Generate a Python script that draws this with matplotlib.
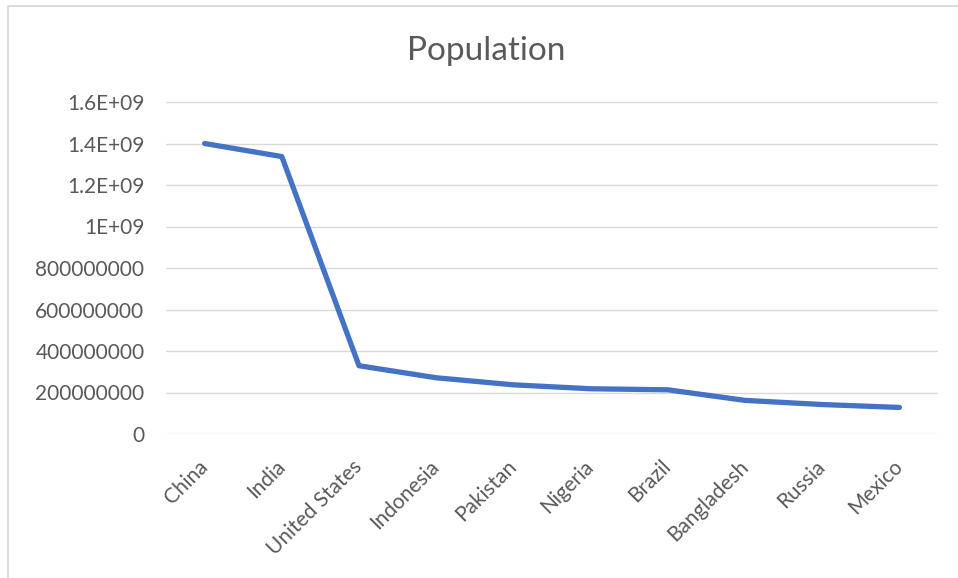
import matplotlib
matplotlib.use("Agg")
import matplotlib.pyplot as plt
from matplotlib.ticker import FixedLocator, FixedFormatter
from matplotlib.lines import Line2D

countries = ["China", "India", "United States", "Indonesia", "Pakistan",
             "Nigeria", "Brazil", "Bangladesh", "Russia", "Mexico"]
population = [1.400e9, 1.337e9, 3.29e8, 2.71e8, 2.37e8,
              2.18e8, 2.13e8, 1.62e8, 1.42e8, 1.28e8]
ytick_values = [0, 2e8, 4e8, 6e8, 8e8, 1e9, 1.2e9, 1.4e9, 1.6e9]
ytick_labels = ["0", "200000000", "400000000", "600000000", "800000000",
                "1E+09", "1.2E+09", "1.4E+09", "1.6E+09"]

plt.rcParams['font.family'] = ['Lato', 'DejaVu Sans']
W, H = 958, 578
fig = plt.figure(figsize=(W/100, H/100), dpi=100)
fig.patch.set_facecolor("white")
# chart-area border (only top and left edges are visible in the crop)
fig.lines.append(Line2D([7.5/W, 7.5/W, 1.0], [0.0, 1-5.5/H, 1-5.5/H],
                        transform=fig.transFigure, color="#d9d9d9", linewidth=1.3))

ax = fig.add_axes([166/W, (H-434)/H, 772/W, 332/H])
x = list(range(len(countries)))
ax.plot(x, population, color="#4472C4", linewidth=3.8,
        solid_joinstyle="round", solid_capstyle="round", zorder=3)
ax.set_xlim(-0.5, len(countries)-0.5)
ax.set_ylim(0, 1.6e9)
ax.yaxis.set_major_locator(FixedLocator(ytick_values))
ax.yaxis.set_major_formatter(FixedFormatter(ytick_labels))
ax.set_xticks(x)
ax.set_xticklabels(countries, rotation=45, ha="right", va="center",
                   rotation_mode="anchor")
ax.grid(axis="y", color="#d9d9d9", linewidth=1)
ax.set_axisbelow(True)
for s in ax.spines.values():
    s.set_visible(False)
ax.tick_params(axis="both", length=0, colors="#595959", labelsize=15)
ax.tick_params(axis="y", pad=15.5)
ax.tick_params(axis="x", pad=21)
fig.text(486.5/W, 1-60/H, "Population", ha="center", va="baseline",
         fontsize=24, color="#595959")
fig.savefig("out.png", dpi=100, facecolor="white")
